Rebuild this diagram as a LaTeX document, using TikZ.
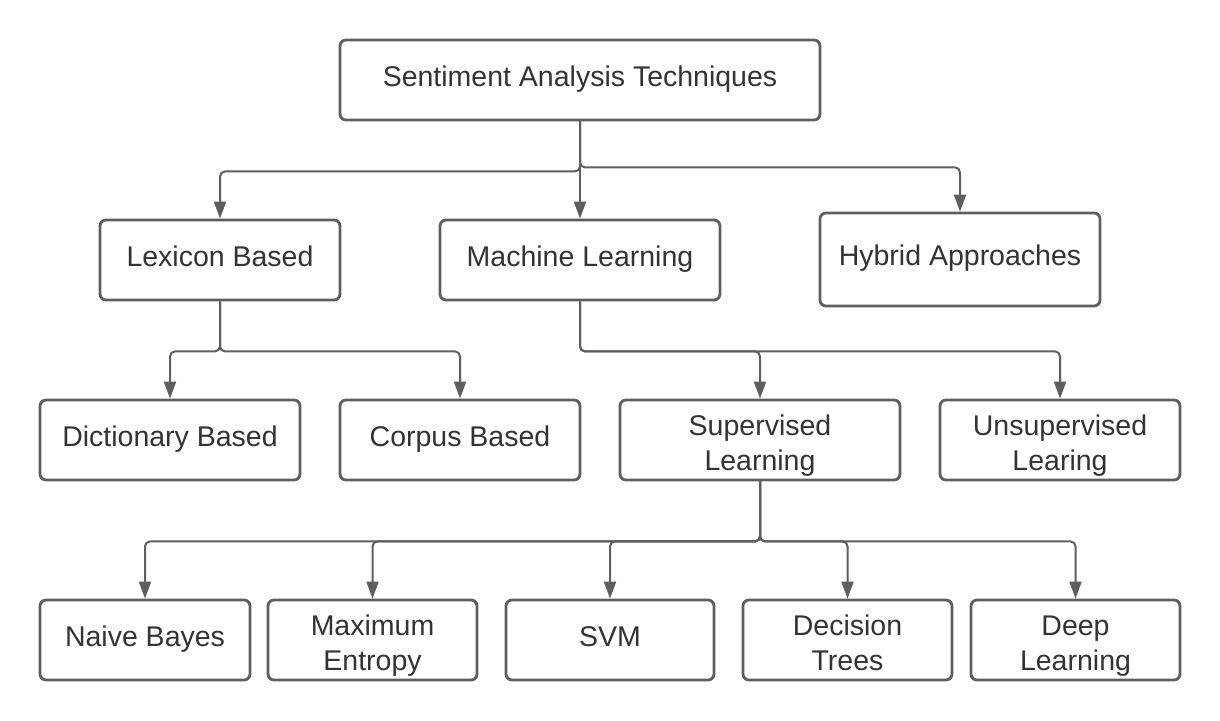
\documentclass[tikz,border=0pt]{standalone}
\usepackage{fontspec}
\setmainfont{Liberation Sans}
\usetikzlibrary{arrows.meta}
\definecolor{linegray}{HTML}{5E5E5E}
\definecolor{textgray}{HTML}{333333}
\newcommand\boxone[1]{\makebox[0pt]{\raisebox{-6pt}[0pt][0pt]{#1}}}
\newcommand\boxtwo[2]{\makebox[0pt]{\raisebox{4.6pt}[0pt][0pt]{#1}}\makebox[0pt]{\raisebox{-30.4pt}[0pt][0pt]{#2}}}
\begin{document}
\begin{tikzpicture}[x=1pt,y=-1pt,
  box/.style={draw=linegray, line width=2.8pt, rounded corners=6pt, fill=white,
    inner sep=0pt, text=textgray, font=\fontsize{28.5}{35}\selectfont},
  conn/.style={draw=linegray, line width=2pt, rounded corners=5pt,
    -{Triangle[length=17pt,width=12pt]}}]
\useasboundingbox[fill=white] (0,0) rectangle (1220,720);
% nodes
\node[box, minimum width=480pt, minimum height=80pt] (sat) at (580,80) {\boxone{Sentiment Analysis Techniques}};
\node[box, minimum width=240pt, minimum height=80pt] (lex) at (220,260) {\boxone{Lexicon Based}};
\node[box, minimum width=280pt, minimum height=80pt] (ml) at (580,260) {\boxone{Machine Learning}};
\node[box, minimum width=280pt, minimum height=93pt] (hyb) at (960,259.5) {\boxone{Hybrid Approaches}};
\node[box, minimum width=260pt, minimum height=80pt] (dic) at (170,440) {\boxone{Dictionary Based}};
\node[box, minimum width=240pt, minimum height=80pt] (cor) at (460,440) {\boxone{Corpus Based}};
\node[box, minimum width=280pt, minimum height=80pt] (sup) at (760,440) {\boxtwo{Supervised}{Learning}};
\node[box, minimum width=240pt, minimum height=80pt] (uns) at (1060,440) {\boxtwo{Unsupervised}{Learing}};
\node[box, minimum width=210pt, minimum height=80pt] (nb) at (145,640) {\boxone{Naive Bayes}};
\node[box, minimum width=209pt, minimum height=80pt] (me) at (372.5,640) {\boxtwo{Maximum}{Entropy}};
\node[box, minimum width=208pt, minimum height=80pt] (svm) at (610,640) {\boxone{SVM}};
\node[box, minimum width=209pt, minimum height=80pt] (dt) at (847.5,640) {\boxtwo{Decision}{Trees}};
\node[box, minimum width=209pt, minimum height=80pt] (dl) at (1075.5,640) {\boxtwo{Deep}{Learning}};
% connectors
\draw[conn] (sat.south) -- ++(0,50) -| (lex.north);
\draw[conn] (sat.south) -- (ml.north);
\draw[conn] (sat.south) -- ++(0,46) -| (hyb.north);
\draw[conn] (lex.south) -- ++(0,50) -| (dic.north);
\draw[conn] (lex.south) -- ++(0,50) -| (cor.north);
\draw[conn] (ml.south) -- ++(0,50) -| (sup.north);
\draw[conn] (ml.south) -- ++(0,50) -| (uns.north);
\draw[conn] (sup.south) -- ++(0,60) -| (nb.north);
\draw[conn] (sup.south) -- ++(0,60) -| (me.north);
\draw[conn] (sup.south) -- ++(0,60) -| (svm.north);
\draw[conn] (sup.south) -- ++(0,60) -| (dt.north);
\draw[conn] (sup.south) -- ++(0,60) -| (dl.north);
\end{tikzpicture}
\end{document}
